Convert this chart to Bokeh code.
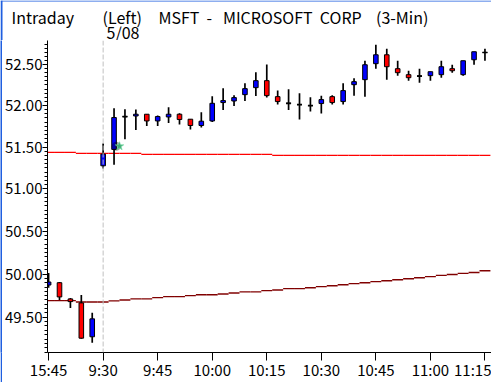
from bokeh.plotting import figure
from bokeh.layouts import column, row
from bokeh.models import Range1d, FixedTicker, NumeralTickFormatter, Span, ColumnDataSource
from bokeh.embed import file_html
from bokeh.resources import INLINE
from bokeh.core.properties import value
import numpy as np

# ---------------- data ----------------
prev_day_times = ["15:45", "15:48", "15:51", "15:54", "15:57"]
today_times = []
h, m = 9, 30
while (h, m) <= (11, 15):
    today_times.append(f"{h}:{m:02d}")
    m += 3
    if m >= 60:
        h, m = h + 1, m - 60
bar_times = prev_day_times + today_times

opens = [49.873, 49.900, 49.712, 49.666, 49.276,
         51.276, 51.472, 51.867, 51.874, 51.895, 51.814, 51.862, 51.895, 51.835, 51.759,
         51.814, 52.036, 52.055, 52.132, 52.217, 52.302, 52.108, 52.027, 52.012, 52.000,
         52.024, 52.108, 52.048, 52.253, 52.314, 52.509, 52.618, 52.448, 52.375, 52.358,
         52.363, 52.375, 52.448, 52.375, 52.557, 52.646]
highs = [50.013, 49.908, 49.723, 49.758, 49.551,
         51.543, 51.967, 51.955, 51.951, 51.895, 51.879, 51.979, 51.907, 51.835, 51.919,
         52.112, 52.209, 52.124, 52.269, 52.403, 52.500, 52.181, 52.196, 52.148, 52.100,
         52.120, 52.124, 52.269, 52.330, 52.545, 52.740, 52.692, 52.545, 52.423, 52.448,
         52.411, 52.545, 52.496, 52.545, 52.655, 52.692]
lows = [49.842, 49.700, 49.608, 49.253, 49.207,
        51.245, 51.288, 51.595, 51.706, 51.754, 51.754, 51.790, 51.771, 51.711, 51.735,
        51.802, 51.946, 51.995, 52.055, 52.115, 52.096, 52.012, 51.946, 51.831, 51.927,
        51.903, 52.012, 52.012, 52.120, 52.108, 52.448, 52.314, 52.363, 52.302, 52.278,
        52.302, 52.338, 52.399, 52.363, 52.496, 52.545]
closes = [49.908, 49.735, 49.681, 49.260, 49.482,
          51.416, 51.855, 51.867, 51.895, 51.814, 51.867, 51.895, 51.831, 51.759, 51.811,
          52.027, 52.060, 52.096, 52.205, 52.302, 52.120, 52.048, 52.027, 52.012, 52.000,
          52.072, 52.036, 52.181, 52.290, 52.496, 52.618, 52.472, 52.399, 52.338, 52.358,
          52.411, 52.472, 52.423, 52.545, 52.655, 52.646]

ma_red = [51.436, 51.436, 51.436, 51.424, 51.424, 51.424, 51.424, 51.424, 51.424,
          51.412, 51.412, 51.412, 51.412, 51.412, 51.412, 51.412, 51.412, 51.412, 51.412,
          51.412, 51.412, 51.400, 51.400, 51.400, 51.400, 51.400, 51.400, 51.400, 51.400,
          51.400, 51.400, 51.400, 51.400, 51.400, 51.400, 51.400, 51.400, 51.400, 51.400,
          51.400, 51.400]
ma_maroon = [49.692, 49.692, 49.692, 49.677, 49.677, 49.677, 49.689, 49.700, 49.712,
             49.712, 49.727, 49.738, 49.738, 49.750, 49.761, 49.761, 49.769, 49.781, 49.793,
             49.793, 49.808, 49.816, 49.831, 49.831, 49.842, 49.854, 49.865, 49.877, 49.889,
             49.900, 49.912, 49.923, 49.935, 49.946, 49.958, 49.970, 49.985, 49.996, 50.008,
             50.019, 50.039]

x_tick_labels = ["15:45", "9:30", "9:45", "10:00", "10:15", "10:30", "10:45", "11:00", "11:15"]
y_tick_values = [49.50, 50.00, 50.50, 51.00, 51.50, 52.00, 52.50]
y_tick_labels = ["49.50", "50.00", "50.50", "51.00", "51.50", "52.00", "52.50"]

cursor_bar = [6.5]
cursor_price = [51.51]

session_start = "9:30"
NB = "\u00a0"
header_texts = ["Intraday", "(Left)",
                "MSFT " + NB + "- " + NB * 2 + "MICROSOFT " + NB + "CORP " + NB * 3 + "(3-Min)",
                "5/08"]

# ---------------- layout constants (pixels) ----------------
FONT = "Noto Sans CJK JP"
W, H_HEAD, H_MAIN, STRIP = 491, 40, 342, 2
header_x = [11, 102, 158, 106]
header_y = [16, 16, 16, 31]
WIN_BLUE = "#1f5fe0"

# ---------------- header ----------------
head = figure(width=W, height=H_HEAD, output_backend="svg", toolbar_location=None,
              x_range=Range1d(0, W), y_range=Range1d(H_HEAD, 0),
              x_axis_location=None, y_axis_location=None, min_border=0)
head.outline_line_color = None
head.grid.visible = False
head.quad(left=[0], right=[W], top=[0], bottom=[1], fill_color=WIN_BLUE, line_color=None)
head.quad(left=[0], right=[STRIP], top=[0], bottom=[H_HEAD], fill_color=WIN_BLUE, line_color=None)
head.text(x=header_x, y=header_y, text=header_texts, text_font=value(FONT),
          text_font_size="16px", text_color="black", text_baseline="alphabetic",
          text_align="left", text_line_height=1.0)

# left window edge strip
strip = figure(width=STRIP, height=H_MAIN, output_backend="svg", toolbar_location=None,
               x_axis_location=None, y_axis_location=None, min_border=0)
strip.outline_line_color = None
strip.grid.visible = False
strip.background_fill_color = WIN_BLUE
strip.border_fill_color = WIN_BLUE

# ---------------- main chart ----------------
n = len(bar_times)
idx = np.arange(n)
o = np.array(opens); c = np.array(closes)
body_top = np.maximum(o, c)
body_bot = np.minimum(o, c)
colors = np.where(c > o, "#0000ff", np.where(c < o, "#ff0000", "#000000"))
is_doji = c == o

src = ColumnDataSource(dict(x=idx, high=highs, low=lows, top=body_top, bottom=body_bot, color=colors))
doji_src = ColumnDataSource(dict(x0=idx[is_doji] - 0.23, x1=idx[is_doji] + 0.23, y=c[is_doji]))

p = figure(width=W - STRIP, height=H_MAIN, output_backend="svg", toolbar_location=None,
           x_range=Range1d(-0.1, 40.6), y_range=Range1d(49.096, 52.793),
           y_axis_type="log", min_border_left=41, min_border_right=0,
           min_border_top=0, min_border_bottom=29)
p.outline_line_color = None
p.xgrid.visible = False
p.ygrid.visible = False
p.background_fill_color = "white"
p.border_fill_color = "white"

p.segment(x0=idx - 0.5, x1=idx + 0.5, y0=ma_red, y1=ma_red, line_color="#ff0000", line_width=1.2)
p.segment(x0=idx - 0.5, x1=idx + 0.5, y0=ma_maroon, y1=ma_maroon, line_color="#800000", line_width=1.4)

p.add_layout(Span(location=bar_times.index(session_start), dimension="height",
                  line_color="#c0c0c0", line_width=1, line_dash="5 2"))

p.segment(x0="x", x1="x", y0="low", y1="high", source=src, line_color="black", line_width=1.7)
p.vbar(x="x", width=0.42, top="top", bottom="bottom", source=src,
       fill_color="color", line_color="black", line_width=1)
p.segment(x0="x0", x1="x1", y0="y", y1="y", source=doji_src, line_color="black", line_width=1.7)

p.scatter(x=[cursor_bar[0] - 0.3], y=cursor_price, size=9, marker="circle",
          fill_color="black", fill_alpha=0.35, line_color=None)
p.scatter(x=cursor_bar, y=cursor_price, size=9, marker="star",
          fill_color="#2fa86a", fill_alpha=0.85, line_color="#6fd9a0", line_alpha=0.6)

tick_idx = [bar_times.index(t) for t in x_tick_labels]
p.xaxis.ticker = FixedTicker(ticks=tick_idx, minor_ticks=[])
p.xaxis.major_label_overrides = {i: t for i, t in zip(tick_idx, x_tick_labels)}
p.xaxis.major_tick_out = 8
p.xaxis.major_tick_in = 0
p.xaxis.minor_tick_out = 0
p.xaxis.major_label_standoff = -2
p.xaxis.major_label_text_font = FONT
p.xaxis.major_label_text_font_size = "15px"
p.xaxis.major_label_text_color = "black"
p.xaxis.axis_line_color = "black"

minor = [round(v, 2) for v in np.arange(49.10, 52.80, 0.05)]
p.yaxis.ticker = FixedTicker(ticks=y_tick_values, minor_ticks=minor)
p.yaxis.formatter = NumeralTickFormatter(format="0.00")
p.yaxis.major_label_overrides = {v: t for v, t in zip(y_tick_values, y_tick_labels)}
p.yaxis.major_tick_out = 5
p.yaxis.major_tick_in = 0
p.yaxis.minor_tick_out = 3
p.yaxis.minor_tick_in = 0
p.yaxis.major_label_standoff = 0
p.yaxis.major_label_text_font = FONT
p.yaxis.major_label_text_font_size = "15px"
p.yaxis.major_label_text_color = "black"
p.yaxis.axis_line_color = "black"

layout = column(head, row(strip, p, spacing=0), spacing=0)
open("out.html", "w").write(file_html(layout, INLINE))
